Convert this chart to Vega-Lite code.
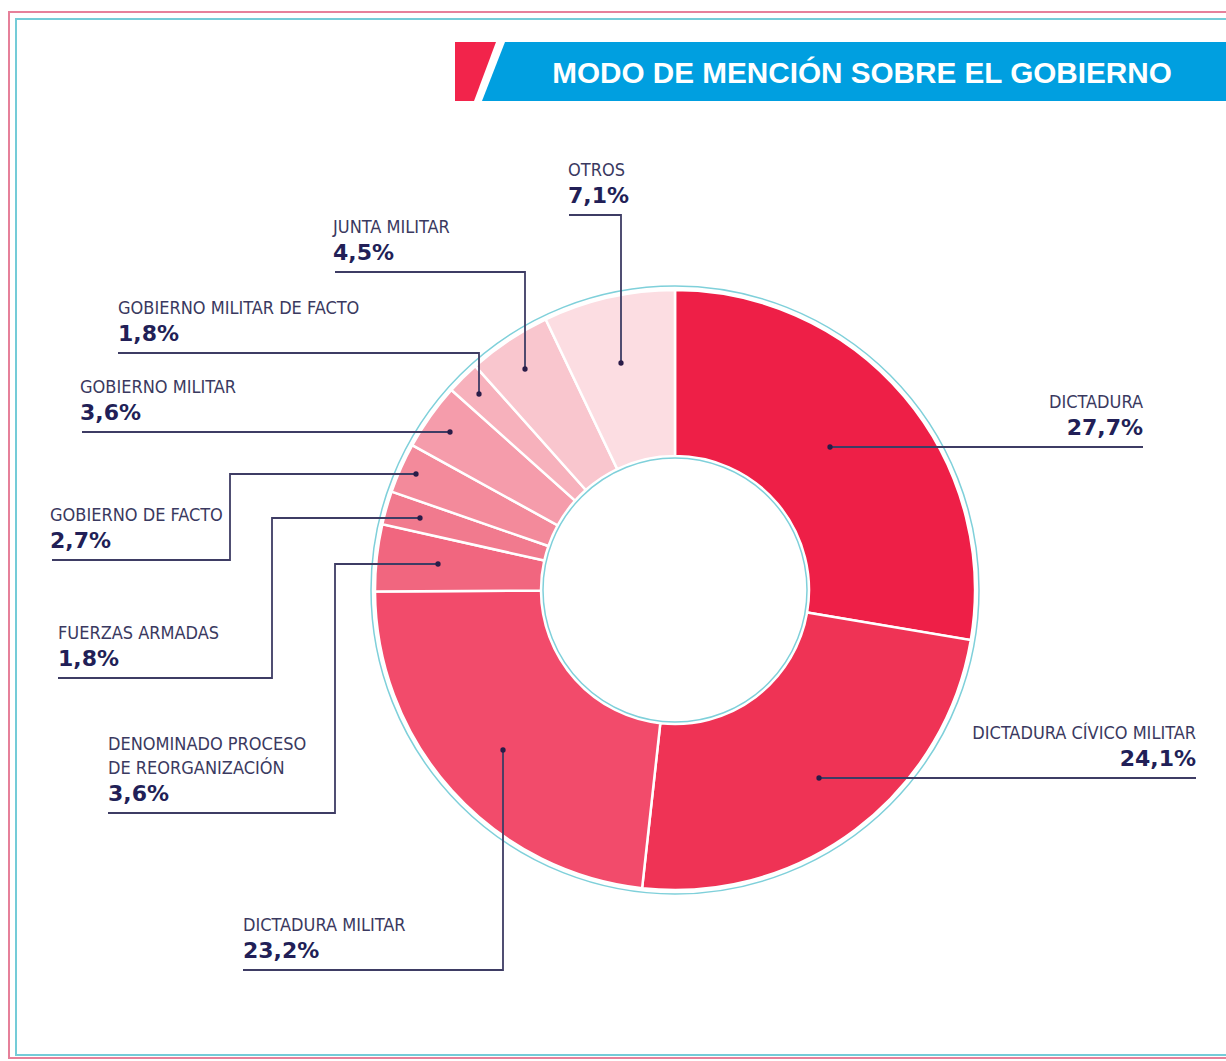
{
  "$schema": "https://vega.github.io/schema/vega-lite/v6.json",
  "width": 1226,
  "height": 1061,
  "padding": 0,
  "autosize": {"type": "none"},
  "background": "white",
  "config": {"view": {"stroke": null}},
  "datasets": {
    "slices": [
      {"category": "DICTADURA", "pct": 27.7, "ord": 1},
      {"category": "DICTADURA CÍVICO MILITAR", "pct": 24.1, "ord": 2},
      {"category": "DICTADURA MILITAR", "pct": 23.2, "ord": 3},
      {"category": "DENOMINADO PROCESO DE REORGANIZACIÓN", "pct": 3.6, "ord": 4},
      {"category": "FUERZAS ARMADAS", "pct": 1.8, "ord": 5},
      {"category": "GOBIERNO DE FACTO", "pct": 2.7, "ord": 6},
      {"category": "GOBIERNO MILITAR", "pct": 3.6, "ord": 7},
      {"category": "GOBIERNO MILITAR DE FACTO", "pct": 1.8, "ord": 8},
      {"category": "JUNTA MILITAR", "pct": 4.5, "ord": 9},
      {"category": "OTROS", "pct": 7.1, "ord": 10}
    ],
    "labels": [
      {"name": "OTROS", "value": "7,1%", "side": "left", "lines": 1, "ax": -107, "ay": 375},
      {"name": "JUNTA MILITAR", "value": "4,5%", "side": "left", "lines": 1, "ax": -342, "ay": 318},
      {"name": "GOBIERNO MILITAR DE FACTO", "value": "1,8%", "side": "left", "lines": 1, "ax": -557, "ay": 237},
      {"name": "GOBIERNO MILITAR", "value": "3,6%", "side": "left", "lines": 1, "ax": -595, "ay": 158},
      {"name": "GOBIERNO DE FACTO", "value": "2,7%", "side": "left", "lines": 1, "ax": -625, "ay": 30},
      {"name": "FUERZAS ARMADAS", "value": "1,8%", "side": "left", "lines": 1, "ax": -617, "ay": -88},
      {"name": "DENOMINADO PROCESO\nDE REORGANIZACIÓN", "value": "3,6%", "side": "left", "lines": 2, "ax": -567, "ay": -223},
      {"name": "DICTADURA MILITAR", "value": "23,2%", "side": "left", "lines": 1, "ax": -432, "ay": -380},
      {"name": "DICTADURA", "value": "27,7%", "side": "right", "lines": 1, "ax": 468, "ay": 143},
      {"name": "DICTADURA CÍVICO MILITAR", "value": "24,1%", "side": "right", "lines": 1, "ax": 521, "ay": -188}
    ],
    "leaders": [
      {"k": "OTROS", "i": 0, "lx": -106, "ly": 375, "dot": false},
      {"k": "OTROS", "i": 1, "lx": -54, "ly": 375, "dot": false},
      {"k": "OTROS", "i": 2, "lx": -54, "ly": 227, "dot": true},
      {"k": "JUNTA", "i": 0, "lx": -340, "ly": 318, "dot": false},
      {"k": "JUNTA", "i": 1, "lx": -150, "ly": 318, "dot": false},
      {"k": "JUNTA", "i": 2, "lx": -150, "ly": 221, "dot": true},
      {"k": "GMF", "i": 0, "lx": -557, "ly": 237, "dot": false},
      {"k": "GMF", "i": 1, "lx": -196, "ly": 237, "dot": false},
      {"k": "GMF", "i": 2, "lx": -196, "ly": 196, "dot": true},
      {"k": "GM", "i": 0, "lx": -593, "ly": 158, "dot": false},
      {"k": "GM", "i": 1, "lx": -225, "ly": 158, "dot": true},
      {"k": "GDF", "i": 0, "lx": -623, "ly": 30, "dot": false},
      {"k": "GDF", "i": 1, "lx": -445, "ly": 30, "dot": false},
      {"k": "GDF", "i": 2, "lx": -445, "ly": 116, "dot": false},
      {"k": "GDF", "i": 3, "lx": -259, "ly": 116, "dot": true},
      {"k": "FA", "i": 0, "lx": -617, "ly": -88, "dot": false},
      {"k": "FA", "i": 1, "lx": -403, "ly": -88, "dot": false},
      {"k": "FA", "i": 2, "lx": -403, "ly": 72, "dot": false},
      {"k": "FA", "i": 3, "lx": -255, "ly": 72, "dot": true},
      {"k": "DEN", "i": 0, "lx": -567, "ly": -223, "dot": false},
      {"k": "DEN", "i": 1, "lx": -340, "ly": -223, "dot": false},
      {"k": "DEN", "i": 2, "lx": -340, "ly": 26, "dot": false},
      {"k": "DEN", "i": 3, "lx": -237, "ly": 26, "dot": true},
      {"k": "DM", "i": 0, "lx": -432, "ly": -380, "dot": false},
      {"k": "DM", "i": 1, "lx": -172, "ly": -380, "dot": false},
      {"k": "DM", "i": 2, "lx": -172, "ly": -160, "dot": true},
      {"k": "DICT", "i": 0, "lx": 155, "ly": 143, "dot": true},
      {"k": "DICT", "i": 1, "lx": 468, "ly": 143, "dot": false},
      {"k": "DCM", "i": 0, "lx": 144, "ly": -188, "dot": true},
      {"k": "DCM", "i": 1, "lx": 521, "ly": -188, "dot": false}
    ],
    "header": [
      {"part": "pink", "hy": 548, "hx": -220, "hx2": -179},
      {"part": "pink", "hy": 489, "hx": -220, "hx2": -201},
      {"part": "blue", "hy": 548, "hx": -170, "hx2": 560},
      {"part": "blue", "hy": 489, "hx": -193, "hx2": 560}
    ],
    "frames": [
      {"f": "pink", "x1": -666, "x2": 560, "y1": 578, "y2": -468},
      {"f": "cyan", "x1": -659, "x2": 560, "y1": 571, "y2": -465}
    ],
    "title": [
      {"t": "MODO DE MENCIÓN SOBRE EL GOBIERNO", "tx": 187, "ty": 507}
    ],
    "ring": [{"r": "ring"}]
  },
  "resolve": {"scale": {"color": "independent", "fill": "independent", "stroke": "independent"}},
  "layer": [
    {
      "data": {"name": "frames"},
      "mark": {"type": "rect", "fill": "transparent", "strokeWidth": 2},
      "encoding": {
        "x": {"field": "x1", "type": "quantitative", "scale": {"domain": [-675, 551], "nice": false, "zero": false}, "axis": null},
        "x2": {"field": "x2"},
        "y": {"field": "y1", "type": "quantitative", "scale": {"domain": [-471, 590], "nice": false, "zero": false}, "axis": null},
        "y2": {"field": "y2"},
        "stroke": {"field": "f", "type": "nominal", "scale": {"domain": ["pink", "cyan"], "range": ["#E6809A", "#74CCD8"]}, "legend": null}
      }
    },
    {
      "data": {"name": "header"},
      "mark": {"type": "area", "orient": "horizontal"},
      "encoding": {
        "y": {"field": "hy", "type": "quantitative", "scale": {"domain": [-471, 590], "nice": false, "zero": false}, "axis": null},
        "x": {"field": "hx", "type": "quantitative", "stack": null, "scale": {"domain": [-675, 551], "nice": false, "zero": false}, "axis": null},
        "x2": {"field": "hx2"},
        "fill": {"field": "part", "type": "nominal", "scale": {"domain": ["pink", "blue"], "range": ["#F2244B", "#009FE0"]}, "legend": null}
      }
    },
    {
      "data": {"name": "title"},
      "mark": {"type": "text", "align": "center", "baseline": "alphabetic", "font": "Liberation Sans", "fontWeight": "bold", "fontSize": 29.7, "color": "white"},
      "encoding": {
        "x": {"field": "tx", "type": "quantitative", "scale": {"domain": [-675, 551], "nice": false, "zero": false}, "axis": null},
        "y": {"field": "ty", "type": "quantitative", "scale": {"domain": [-471, 590], "nice": false, "zero": false}, "axis": null},
        "text": {"field": "t"}
      }
    },
    {
      "data": {"name": "slices"},
      "mark": {"type": "arc", "radius": 300, "radius2": 134, "stroke": "white", "strokeWidth": 2.5},
      "encoding": {
        "theta": {"field": "pct", "type": "quantitative", "stack": true},
        "order": {"field": "ord", "type": "quantitative"},
        "color": {
          "field": "category", "type": "nominal", "legend": null,
          "scale": {
            "domain": ["DICTADURA", "DICTADURA CÍVICO MILITAR", "DICTADURA MILITAR", "DENOMINADO PROCESO DE REORGANIZACIÓN", "FUERZAS ARMADAS", "GOBIERNO DE FACTO", "GOBIERNO MILITAR", "GOBIERNO MILITAR DE FACTO", "JUNTA MILITAR", "OTROS"],
            "range": ["#EE1F47", "#EF3355", "#F24B6B", "#F1667F", "#F17A8E", "#F38A9B", "#F59CAB", "#F7B1BC", "#F9C6CE", "#FCDDE2"]
          }
        },
        "x": {"datum": 0, "type": "quantitative", "scale": {"domain": [-675, 551], "nice": false, "zero": false}, "axis": null},
        "y": {"datum": 0, "type": "quantitative", "scale": {"domain": [-471, 590], "nice": false, "zero": false}, "axis": null}
      }
    },
    {
      "data": {"name": "ring"},
      "mark": {"type": "arc", "theta": 0, "theta2": 6.2832, "radius": 304, "radius2": 0, "fill": "transparent", "stroke": "#7FD0DA", "strokeWidth": 1.5},
      "encoding": {
        "x": {"datum": 0, "type": "quantitative", "scale": {"domain": [-675, 551], "nice": false, "zero": false}, "axis": null},
        "y": {"datum": 0, "type": "quantitative", "scale": {"domain": [-471, 590], "nice": false, "zero": false}, "axis": null}
      }
    },
    {
      "data": {"name": "ring"},
      "mark": {"type": "arc", "theta": 0, "theta2": 6.2832, "radius": 132, "radius2": 0, "fill": "transparent", "stroke": "#7FD0DA", "strokeWidth": 1.5},
      "encoding": {
        "x": {"datum": 0, "type": "quantitative", "scale": {"domain": [-675, 551], "nice": false, "zero": false}, "axis": null},
        "y": {"datum": 0, "type": "quantitative", "scale": {"domain": [-471, 590], "nice": false, "zero": false}, "axis": null}
      }
    },
    {
      "data": {"name": "leaders"},
      "mark": {"type": "line", "color": "#3E3C64", "strokeWidth": 1.8, "interpolate": "linear"},
      "encoding": {
        "x": {"field": "lx", "type": "quantitative", "scale": {"domain": [-675, 551], "nice": false, "zero": false}, "axis": null},
        "y": {"field": "ly", "type": "quantitative", "scale": {"domain": [-471, 590], "nice": false, "zero": false}, "axis": null},
        "detail": {"field": "k", "type": "nominal"},
        "order": {"field": "i", "type": "quantitative"}
      }
    },
    {
      "data": {"name": "leaders"},
      "transform": [{"filter": "datum.dot"}],
      "mark": {"type": "point", "filled": true, "size": 28, "color": "#2A1C48", "opacity": 1},
      "encoding": {
        "x": {"field": "lx", "type": "quantitative", "scale": {"domain": [-675, 551], "nice": false, "zero": false}, "axis": null},
        "y": {"field": "ly", "type": "quantitative", "scale": {"domain": [-471, 590], "nice": false, "zero": false}, "axis": null}
      }
    },
    {
      "data": {"name": "labels"},
      "transform": [{"filter": "datum.side === 'left' && datum.lines === 1"}],
      "mark": {"type": "text", "align": "left", "baseline": "alphabetic", "dy": -39, "font": "Liberation Sans Narrow, DejaVu Sans Condensed, Liberation Sans", "fontSize": 18, "color": "#3A3960"},
      "encoding": {
        "x": {"field": "ax", "type": "quantitative", "scale": {"domain": [-675, 551], "nice": false, "zero": false}, "axis": null},
        "y": {"field": "ay", "type": "quantitative", "scale": {"domain": [-471, 590], "nice": false, "zero": false}, "axis": null},
        "text": {"field": "name"}
      }
    },
    {
      "data": {"name": "labels"},
      "transform": [{"filter": "datum.side === 'left' && datum.lines === 2"}],
      "mark": {"type": "text", "align": "left", "baseline": "alphabetic", "dy": -63, "lineBreak": "\n", "lineHeight": 24, "font": "Liberation Sans Narrow, DejaVu Sans Condensed, Liberation Sans", "fontSize": 18, "color": "#3A3960"},
      "encoding": {
        "x": {"field": "ax", "type": "quantitative", "scale": {"domain": [-675, 551], "nice": false, "zero": false}, "axis": null},
        "y": {"field": "ay", "type": "quantitative", "scale": {"domain": [-471, 590], "nice": false, "zero": false}, "axis": null},
        "text": {"field": "name"}
      }
    },
    {
      "data": {"name": "labels"},
      "transform": [{"filter": "datum.side === 'right'"}],
      "mark": {"type": "text", "align": "right", "baseline": "alphabetic", "dy": -39, "font": "Liberation Sans Narrow, DejaVu Sans Condensed, Liberation Sans", "fontSize": 18, "color": "#3A3960"},
      "encoding": {
        "x": {"field": "ax", "type": "quantitative", "scale": {"domain": [-675, 551], "nice": false, "zero": false}, "axis": null},
        "y": {"field": "ay", "type": "quantitative", "scale": {"domain": [-471, 590], "nice": false, "zero": false}, "axis": null},
        "text": {"field": "name"}
      }
    },
    {
      "data": {"name": "labels"},
      "transform": [{"filter": "datum.side === 'left'"}],
      "mark": {"type": "text", "align": "left", "baseline": "alphabetic", "dy": -12, "font": "DejaVu Sans", "fontWeight": "bold", "fontSize": 22, "color": "#221F57"},
      "encoding": {
        "x": {"field": "ax", "type": "quantitative", "scale": {"domain": [-675, 551], "nice": false, "zero": false}, "axis": null},
        "y": {"field": "ay", "type": "quantitative", "scale": {"domain": [-471, 590], "nice": false, "zero": false}, "axis": null},
        "text": {"field": "value"}
      }
    },
    {
      "data": {"name": "labels"},
      "transform": [{"filter": "datum.side === 'right'"}],
      "mark": {"type": "text", "align": "right", "baseline": "alphabetic", "dy": -12, "font": "DejaVu Sans", "fontWeight": "bold", "fontSize": 22, "color": "#221F57"},
      "encoding": {
        "x": {"field": "ax", "type": "quantitative", "scale": {"domain": [-675, 551], "nice": false, "zero": false}, "axis": null},
        "y": {"field": "ay", "type": "quantitative", "scale": {"domain": [-471, 590], "nice": false, "zero": false}, "axis": null},
        "text": {"field": "value"}
      }
    }
  ]
}
